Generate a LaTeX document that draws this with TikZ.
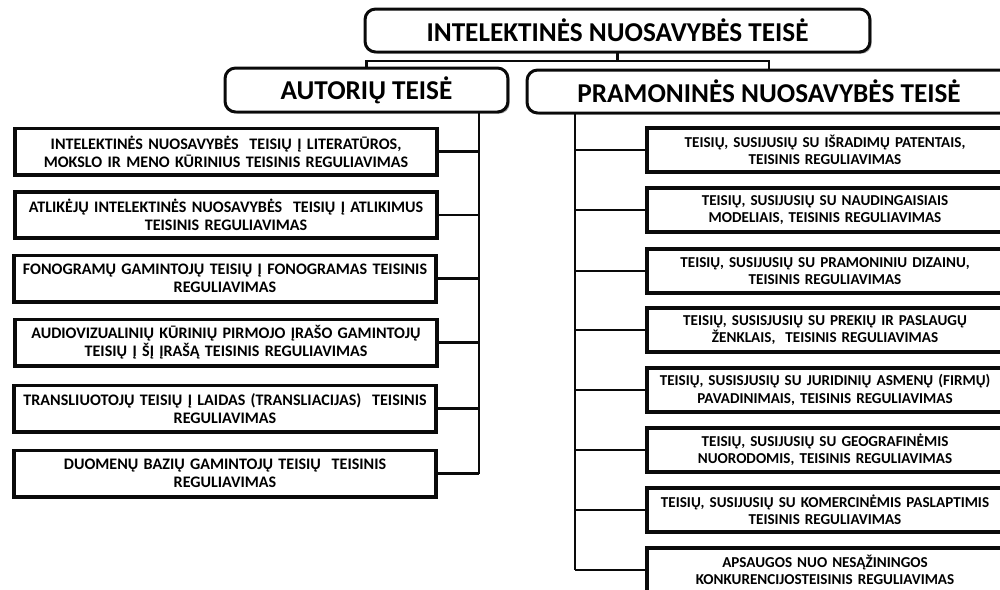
\documentclass[tikz,border=0pt]{standalone}
\usepackage{fontspec}
\setmainfont{Carlito}
\usepackage{tikz}
\usetikzlibrary{positioning, calc, shadows}
\definecolor{cLine}{RGB}{10,10,10}
\newcommand{\oneline}[1]{\makebox[\linewidth]{#1}}
\tikzset{
  %% header boxes
  hbox/.style={rectangle, rounded corners=6pt, draw=cLine, fill=white,
               line width=1.7pt, font=\bfseries\fontsize{15.5}{17}\selectfont,
               inner sep=0pt, drop shadow={shadow xshift=1pt, shadow yshift=-1pt,
               opacity=0.35, fill=black}},
  %% item boxes
  ibox/.style={rectangle, draw=cLine, fill=white, line width=2pt,
               align=center, inner xsep=1pt, inner ysep=0pt,
               drop shadow={shadow xshift=1pt, shadow yshift=-1pt,
               opacity=0.35, fill=black}},
  lbox/.style={ibox, text width=8.37cm, minimum height=0.93cm,
               font=\bfseries\fontsize{9.15}{10.3}\selectfont},
  rbox/.style={ibox, text width=7.05cm, minimum height=0.88cm,
               font=\bfseries\fontsize{8.6}{9.8}\selectfont},
  edge/.style={draw=cLine, line width=1.3pt},
}
\begin{document}
\begin{tikzpicture}[x=0.02cm, y=-0.02cm]
\useasboundingbox (0,0) rectangle (1000,589);
\clip (0,0) rectangle (1000,589);

%% --- Level 0: root ---
\node[hbox, minimum width=10.1cm, minimum height=0.86cm] (root) at (617.5, 30.5)
  {INTELEKTINĖS NUOSAVYBĖS TEISĖ};

%% --- Level 1 ---
\node[hbox, minimum width=5.66cm, minimum height=0.88cm] (aut) at (366.5, 90)
  {AUTORIŲ TEISĖ};
\node[hbox, minimum width=9.68cm, minimum height=0.86cm] (pram) at (769, 91.5)
  {PRAMONINĖS NUOSAVYBĖS TEISĖ};

%% --- Level 2: left column ---
\node[lbox] (l1) at (226, 151.5)
  {\oneline{INTELEKTINĖS NUOSAVYBĖS~ TEISIŲ Į LITERATŪROS,}\\
   \oneline{MOKSLO IR MENO KŪRINIUS TEISINIS REGULIAVIMAS}};
\node[lbox] (l2) at (226, 215)
  {\oneline{ATLIKĖJŲ INTELEKTINĖS NUOSAVYBĖS~ TEISIŲ Į ATLIKIMUS}\\
   \oneline{TEISINIS REGULIAVIMAS}};
\node[lbox] (l3) at (225, 278.5)
  {\oneline{FONOGRAMŲ GAMINTOJŲ TEISIŲ Į FONOGRAMAS TEISINIS}\\
   \oneline{REGULIAVIMAS}};
\node[lbox] (l4) at (226, 342.5)
  {\oneline{AUDIOVIZUALINIŲ KŪRINIŲ PIRMOJO ĮRAŠO GAMINTOJŲ}\\
   \oneline{TEISIŲ Į ŠĮ ĮRAŠĄ TEISINIS REGULIAVIMAS}};
\node[lbox] (l5) at (225, 408.5)
  {\oneline{TRANSLIUOTOJŲ TEISIŲ Į LAIDAS (TRANSLIACIJAS)~ TEISINIS}\\
   \oneline{REGULIAVIMAS}};
\node[lbox] (l6) at (225, 473.5)
  {\oneline{DUOMENŲ BAZIŲ GAMINTOJŲ TEISIŲ~ TEISINIS}\\
   \oneline{REGULIAVIMAS}};

%% --- Level 2: right column ---
\node[rbox] (r1) at (825, 150)
  {\oneline{TEISIŲ, SUSIJUSIŲ SU IŠRADIMŲ PATENTAIS,}\\
   \oneline{TEISINIS REGULIAVIMAS}};
\node[rbox] (r2) at (825, 210)
  {\oneline{TEISIŲ, SUSIJUSIŲ SU NAUDINGAISIAIS}\\
   \oneline{MODELIAIS, TEISINIS REGULIAVIMAS}};
\node[rbox] (r3) at (825, 271)
  {\oneline{TEISIŲ, SUSIJUSIŲ SU PRAMONINIU DIZAINU,}\\
   \oneline{TEISINIS REGULIAVIMAS}};
\node[rbox] (r4) at (825, 330)
  {\oneline{TEISIŲ, SUSISJUSIŲ SU PREKIŲ IR PASLAUGŲ}\\
   \oneline{ŽENKLAIS,~ TEISINIS REGULIAVIMAS}};
\node[rbox] (r5) at (825, 390)
  {\oneline{TEISIŲ, SUSISJUSIŲ SU JURIDINIŲ ASMENŲ (FIRMŲ)}\\
   \oneline{PAVADINIMAIS, TEISINIS REGULIAVIMAS}};
\node[rbox] (r6) at (825, 450)
  {\oneline{TEISIŲ, SUSIJUSIŲ SU GEOGRAFINĖMIS}\\
   \oneline{NUORODOMIS, TEISINIS REGULIAVIMAS}};
\node[rbox] (r7) at (825, 510)
  {\oneline{TEISIŲ, SUSIJUSIŲ SU KOMERCINĖMIS PASLAPTIMIS}\\
   \oneline{TEISINIS REGULIAVIMAS}};
\node[rbox] (r8) at (825, 570)
  {\oneline{APSAUGOS NUO NESĄŽININGOS}\\
   \oneline{KONKURENCIJOSTEISINIS REGULIAVIMAS}};

%% -- root -> level 1 --
\coordinate (bus) at (0, 61);
\draw[edge] (root.south) -- (root.south |- bus);
\draw[edge] (aut.north) |- (bus -| pram.north) -- (pram.north);

%% -- left spine --
\coordinate (lspine) at (479, 0);
\draw[edge] (aut.south -| lspine) -- (l6.east -| lspine);
\foreach \i in {1,...,6}
  \draw[edge] (l\i.east) -- (l\i.east -| lspine);

%% -- right spine --
\coordinate (rspine) at (575, 0);
\draw[edge] (pram.south -| rspine) -- (r8.west -| rspine);
\foreach \i in {1,...,8}
  \draw[edge] (r\i.west) -- (r\i.west -| rspine);

\end{tikzpicture}
\end{document}
